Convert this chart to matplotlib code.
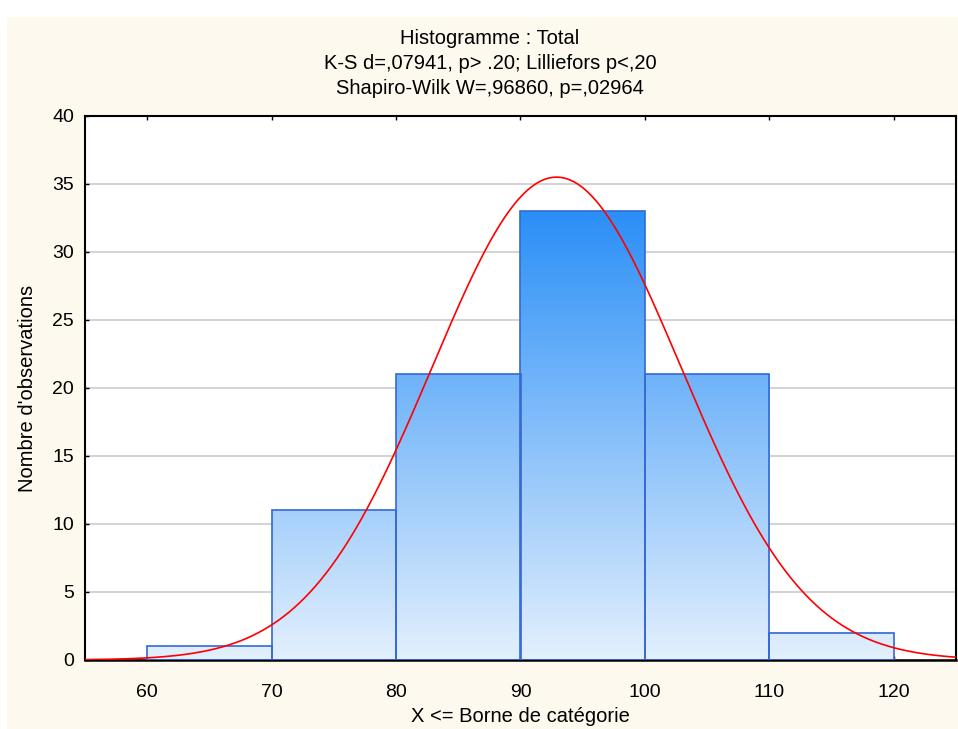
import numpy as np
import matplotlib as mpl
mpl.use('Agg')
import matplotlib.pyplot as plt
from matplotlib.colors import LinearSegmentedColormap
from matplotlib.patches import Rectangle

mpl.rcParams['font.family'] = ['Liberation Sans', 'DejaVu Sans']

# classes (X <= upper bound) and number of observations per class
bin_edges = [60, 70, 80, 90, 100, 110, 120]
counts = [1, 11, 21, 33, 21, 2]

# fitted normal law
fit_mean = 92.9
fit_sd = 10.0

title_lines = ['Histogramme : Total',
               'K-S d=,07941, p> .20; Lilliefors p<,20',
               'Shapiro-Wilk W=,96860, p=,02964']
x_ticks = [60, 70, 80, 90, 100, 110, 120]
y_ticks = [0, 5, 10, 15, 20, 25, 30, 35, 40]

W, H = 958, 729
fig = plt.figure(figsize=(W / 100, H / 100), dpi=100, facecolor='white')
fig.patches.append(Rectangle((7 / W, 0), 1, 1 - 17 / H, transform=fig.transFigure,
                             facecolor='#fdf9ef', edgecolor='none', zorder=-10))

ax = fig.add_axes([85 / W, 69 / H, 871 / W, 544 / H])
ax.set_facecolor('white')

# bars filled with a vertical gradient shared by all classes
cmap = LinearSegmentedColormap.from_list('barfill', ['#e3f0fd', '#2b8ff7'])
top = max(counts)
for x0, x1, c in zip(bin_edges[:-1], bin_edges[1:], counts):
    grad = np.linspace(0, c, 200).reshape(-1, 1)
    ax.imshow(grad, extent=(x0, x1, 0, c), origin='lower', aspect='auto',
              cmap=cmap, vmin=0, vmax=top, zorder=2, interpolation='bilinear')
widths = np.diff(bin_edges)
ax.bar(bin_edges[:-1], counts, width=widths, align='edge', fill=False,
       edgecolor='#3568d4', linewidth=1.2, zorder=3)

# expected counts under the normal law
bin_w = widths[0]
xs = np.linspace(55, 125, 500)
ys = sum(counts) * bin_w * np.exp(-0.5 * ((xs - fit_mean) / fit_sd) ** 2) / (fit_sd * np.sqrt(2 * np.pi))
ax.plot(xs, ys, color='#ff0000', lw=1.2, zorder=4)

ax.set_xlim(55, 125)
ax.set_ylim(0, 40)
ax.set_xticks(x_ticks)
ax.set_yticks(y_ticks)
ax.set_axisbelow(True)
ax.yaxis.grid(True, color='#d4d4d4', lw=1.5)
ax.tick_params(axis='both', direction='in', length=3, width=1, labelsize=14, top=True)
ax.tick_params(axis='x', pad=17)
ax.tick_params(axis='y', pad=8)
for s in ax.spines.values():
    s.set_linewidth(1.5)
    s.set_color('black')
ax.spines['bottom'].set_linewidth(1.8)

for i, t in enumerate(title_lines):
    fig.text(490 / W, 1 - (38 + 25.5 * i) / H, t, ha='center', va='center', fontsize=14.5)
fig.text(520 / W, 1 - 717 / H, 'X <= Borne de catégorie', ha='center', va='center', fontsize=14.5)
fig.text(28 / W, 1 - 388 / H, "Nombre d'observations", ha='center', va='center',
         rotation=90, fontsize=14.5)

fig.savefig('out.png', dpi=100, facecolor=fig.get_facecolor())
